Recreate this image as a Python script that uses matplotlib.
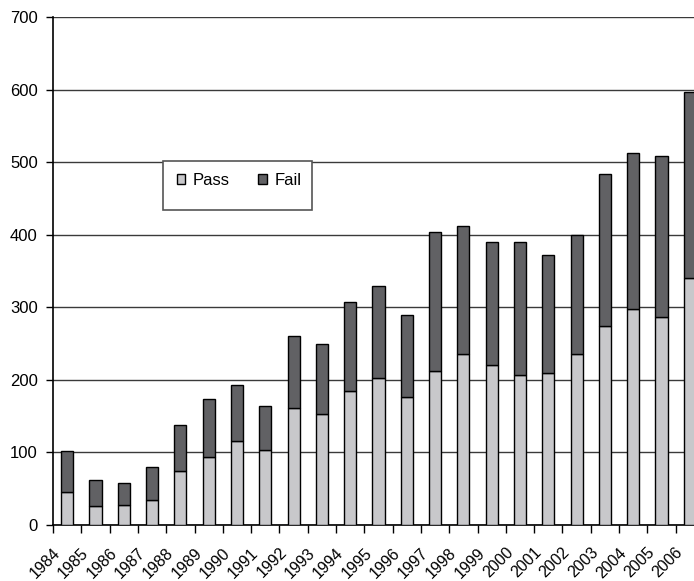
import matplotlib
matplotlib.use("Agg")
import matplotlib.pyplot as plt
from matplotlib.patches import Rectangle
from matplotlib.transforms import offset_copy

plt.rcParams["font.family"] = ["Liberation Sans", "DejaVu Sans"]

years = [str(y) for y in range(1984, 2007)]
passed = [45, 26, 28, 34, 74, 94, 116, 104, 161, 153, 184, 202, 177, 212,
          235, 221, 207, 210, 235, 274, 298, 286, 340]
failed = [57, 36, 30, 46, 64, 80, 77, 60, 100, 96, 123, 128, 113, 192,
          177, 169, 183, 162, 165, 209, 214, 222, 256]

PASS_COLOR = "#c8c8cb"
FAIL_COLOR = "#616164"

W, H = 694, 581
fig = plt.figure(figsize=(W / 100, H / 100), dpi=100)
# axes run past the right edge on purpose: the last bar is cut off
ax = fig.add_axes([53 / W, (H - 525) / H, 651 / W, 508 / H])

xs = list(range(len(years)))
ax.bar(xs, passed, width=0.43, color=PASS_COLOR, edgecolor="black",
       linewidth=1.0, zorder=3, label="Pass")
ax.bar(xs, failed, bottom=passed, width=0.43, color=FAIL_COLOR,
       edgecolor="black", linewidth=1.0, zorder=3, label="Fail")

ax.set_xlim(-0.5, len(years) - 0.5)
ax.set_ylim(0, 700)
ax.set_yticks(range(0, 701, 100))
ax.tick_params(axis="y", labelsize=12, length=5, width=1, pad=6, direction="out")
ax.yaxis.grid(True, color="#3a3a3a", linewidth=1.0, zorder=0)
ax.set_axisbelow(True)

# boundary ticks on x, labels placed by hand
ax.set_xticks([x - 0.5 for x in xs] + [len(years) - 0.5])
ax.set_xticklabels([])
ax.tick_params(axis="x", length=6, width=1, direction="out")

lab_tr = offset_copy(ax.get_xaxis_transform(), fig=fig, x=-4, y=-20, units="dots")
for x, yr in zip(xs, years):
    ax.text(x, 0, yr, transform=lab_tr, rotation=45, ha="right", va="top",
            fontsize=11.5)

for side in ("top", "right"):
    ax.spines[side].set_visible(False)
ax.spines["left"].set_linewidth(1.2)
ax.spines["bottom"].set_linewidth(1.2)

# legend box as drawn by the spreadsheet, with extra empty space below
box = Rectangle((163 / W, (H - 210) / H), 149 / W, 49 / H,
                transform=fig.transFigure, facecolor="white",
                edgecolor="#555555", linewidth=1.2, zorder=5)
fig.patches.append(box)
fig.legend(loc="upper left", bbox_to_anchor=(165 / W, (H - 161) / H),
           ncol=2, frameon=False, fontsize=12, handlelength=0.5,
           handleheight=0.5, handletextpad=0.48, columnspacing=1.7,
           borderpad=0.2)

fig.savefig("out.png", dpi=100)
